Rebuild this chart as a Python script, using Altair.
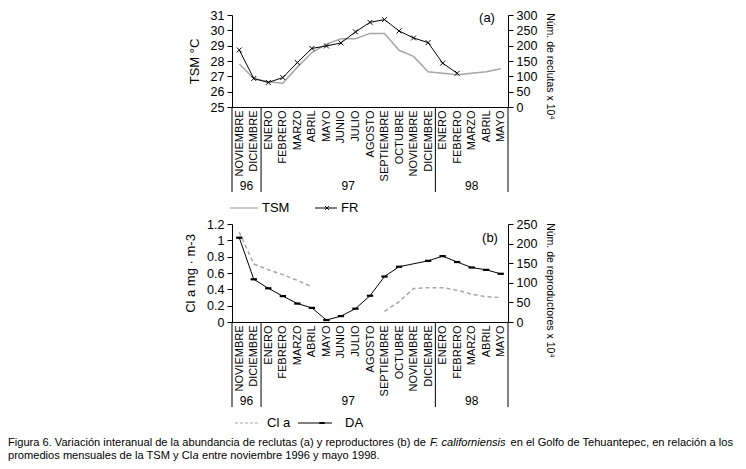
import altair as alt
import pandas as pd

# ---------------- data ----------------
months = ["NOVIEMBRE", "DICIEMBRE", "ENERO", "FEBRERO", "MARZO", "ABRIL", "MAYO",
          "JUNIO", "JULIO", "AGOSTO", "SEPTIEMBRE", "OCTUBRE", "NOVIEMBRE",
          "DICIEMBRE", "ENERO", "FEBRERO", "MARZO", "ABRIL", "MAYO"]
tsm = [27.8, 26.85, 26.65, 26.55, 27.6, 28.55, 29.1, 29.45, 29.45, 29.8,
       29.8, 28.7, 28.3, 27.3, 27.2, 27.1, 27.2, 27.3, 27.5]
fr = [186, 93, 80, 96, 145, 191, 199, 209, 245, 276, 285, 248, 225, 210,
      143, 110, None, None, None]
cla = [1.1, 0.71, 0.64, 0.58, 0.51, 0.43, None, None, None, None, 0.13,
       0.25, 0.41, 0.42, 0.42, 0.39, 0.34, 0.31, 0.30]
da = [215, 109, 86, 66, 47, 36, 5, 15, 34, 67, 116, 141, None, 156, 168,
      153, 139, 133, 123]
years = ["96", "97", "98"]
year_edges = [0, 2, 14, 19]
year_centers = [1, 8, 16.5]
caption1 = ["Figura 6. Variación interanual de la abundancia de reclutas (a) y reproductores (b) de",
            "F. californiensis",
            "en el Golfo de Tehuantepec, en relación a los"]
caption2 = ["promedios mensuales de la TSM y Cl", "a", "entre noviembre 1996 y mayo 1998."]

FONT = "Liberation Sans"

# ---------------- layout (pixels inside the svg) ----------------
W, H = 730, 453
X0, X1 = 224, 500
A_TOP, A_BOT = 7, 99
B_TOP, B_BOT = 216, 314
RULE = 85
CAP_FS = 11.1
CAP_X = [0, 422, 502.5, 0, 184.5, 194]
CAP_Y = [438, 438, 438, 451, 451, 451]

pos = [i + 0.5 for i in range(len(months))]
dfa = pd.DataFrame({"pos": pos, "tsm": tsm, "fr": fr})
dfb = pd.DataFrame({"pos": pos, "cla": cla, "da": da})
dfb["seg"] = dfb["cla"].isna().cumsum()
fr_df = dfa.dropna(subset=["fr"])
cla_df = dfb.dropna(subset=["cla"])
da_df = dfb.dropna(subset=["da"])

label_expr = "[" + ",".join("'%s'" % m for m in months) + "][floor(datum.value)]"


def xs():
    return alt.Scale(domain=[0, 19], range=[X0, X1], nice=False, zero=False)


def x_axis(offset):
    return alt.Axis(values=pos, labelExpr=label_expr, labelAngle=270, ticks=False,
                    domainColor="black", domainWidth=1, labelFontSize=11, labelColor="black",
                    labelPadding=3, title=None, grid=False, orient="bottom",
                    offset=offset, labelFont=FONT)


def y_axis(orient, values, title, fmt=None, title_fs=13, title_y=None):
    kw = dict(orient=orient, values=values, title=title, grid=False,
              offset=(-X0 if orient == "left" else -(W - X1)),
              tickSize=5, tickColor="black", domainColor="black", labelColor="black",
              labelFontSize=12.5, labelFont=FONT, titleFont=FONT, titleFontSize=title_fs,
              titleFontWeight="normal", titleColor="black",
              titlePadding=(9 if orient == "left" else 8), labelPadding=3)
    if fmt:
        kw["format"] = fmt
    if title_y is not None:
        kw["titleY"] = title_y
    return alt.Axis(**kw)


ya_l = lambda: alt.Scale(domain=[25, 31], range=[A_BOT, A_TOP], nice=False, zero=False)
ya_r = lambda: alt.Scale(domain=[0, 300], range=[A_BOT, A_TOP], nice=False)
yb_l = lambda: alt.Scale(domain=[0, 1.2], range=[B_BOT, B_TOP], nice=False)
yb_r = lambda: alt.Scale(domain=[0, 250], range=[B_BOT, B_TOP], nice=False)

layers = []

# ---- panel (a) ----
layers.append(alt.Chart(dfa).mark_line(color="#a6a6a6", strokeWidth=1.5).encode(
    x=alt.X("pos:Q", scale=xs(), axis=x_axis(A_BOT - H)),
    y=alt.Y("tsm:Q", scale=ya_l(), axis=y_axis("left", [25, 26, 27, 28, 29, 30, 31], "TSM  °C"))))
layers.append(alt.Chart(fr_df).mark_line(color="black", strokeWidth=1).encode(
    x=alt.X("pos:Q", scale=xs(), axis=None),
    y=alt.Y("fr:Q", scale=ya_r(), axis=y_axis("right", [0, 50, 100, 150, 200, 250, 300],
                                              "Núm. de reclutas x 10⁴", title_fs=10.5,
                                              title_y=58))))
layers.append(alt.Chart(fr_df).mark_point(shape="M-1,-1L1,1M-1,1L1,-1", size=24, color="black",
                                          strokeWidth=1, opacity=1).encode(
    x=alt.X("pos:Q", scale=xs(), axis=None),
    y=alt.Y("fr:Q", scale=ya_r(), axis=None)))

# ---- panel (b) ----
layers.append(alt.Chart(cla_df).mark_line(color="#a6a6a6", strokeWidth=1.5, strokeDash=[4, 3]).encode(
    x=alt.X("pos:Q", scale=xs(), axis=x_axis(B_BOT - H)),
    y=alt.Y("cla:Q", scale=yb_l(), axis=y_axis("left", [0, 0.2, 0.4, 0.6, 0.8, 1, 1.2],
                                               "Cl a mg · m-3", fmt=".1~f")),
    detail="seg:N"))
layers.append(alt.Chart(da_df).mark_line(color="black", strokeWidth=1).encode(
    x=alt.X("pos:Q", scale=xs(), axis=None),
    y=alt.Y("da:Q", scale=yb_r(), axis=y_axis("right", [0, 50, 100, 150, 200, 250],
                                              "Núm. de reproductores x 10⁴", title_fs=10.5,
                                              title_y=282))))
layers.append(alt.Chart(da_df).mark_point(shape="M-1,-0.35L1,-0.35L1,0.35L-1,0.35Z", size=40,
                                          color="black", filled=True, opacity=1).encode(
    x=alt.X("pos:Q", scale=xs(), axis=None),
    y=alt.Y("da:Q", scale=yb_r(), axis=None)))

# ---- year separators and labels ----
edges_df = pd.DataFrame({"pos": year_edges})
years_df = pd.DataFrame({"pos": year_centers, "year": years})
for bot in (A_BOT, B_BOT):
    layers.append(alt.Chart(edges_df).mark_rule(color="black", strokeWidth=1).encode(
        x=alt.X("pos:Q", scale=xs(), axis=None),
        y=alt.value(bot), y2=alt.value(bot + RULE)))
    layers.append(alt.Chart(years_df).mark_text(font=FONT, fontSize=12, color="black").encode(
        x=alt.X("pos:Q", scale=xs(), axis=None),
        y=alt.value(bot + 79), text="year:N"))

# ---- panel tags ----
layers.append(alt.Chart(pd.DataFrame({"t": ["(a)"]})).mark_text(
    font=FONT, fontSize=13, color="black", align="center").encode(
    x=alt.value(479), y=alt.value(10), text="t:N"))
layers.append(alt.Chart(pd.DataFrame({"t": ["(b)"]})).mark_text(
    font=FONT, fontSize=13, color="black", align="center").encode(
    x=alt.value(482), y=alt.value(230), text="t:N"))

# ---- legends ----
LA, LB = A_BOT + 101, B_BOT + 101
layers.append(alt.Chart(pd.DataFrame({"k": [0]})).mark_rule(color="#a6a6a6", strokeWidth=1.2).encode(
    x=alt.value(222), x2=alt.value(250), y=alt.value(LA)))
layers.append(alt.Chart(pd.DataFrame({"k": [0]})).mark_rule(color="black", strokeWidth=1).encode(
    x=alt.value(307), x2=alt.value(329), y=alt.value(LA)))
layers.append(alt.Chart(pd.DataFrame({"k": [0]})).mark_point(
    shape="M-1,-1L1,1M-1,1L1,-1", size=14, color="black", strokeWidth=1, opacity=1).encode(
    x=alt.value(319), y=alt.value(LA)))
layers.append(alt.Chart(pd.DataFrame({"t": ["TSM", "FR"], "x": [254, 333]})).mark_text(
    font=FONT, fontSize=13, color="black", align="left", baseline="middle").encode(
    x=alt.X("x:Q", scale=None), y=alt.value(LA), text="t:N"))

layers.append(alt.Chart(pd.DataFrame({"k": [0]})).mark_rule(
    color="#a6a6a6", strokeWidth=1.2, strokeDash=[3, 2]).encode(
    x=alt.value(227), x2=alt.value(250), y=alt.value(LB)))
layers.append(alt.Chart(pd.DataFrame({"k": [0]})).mark_rule(color="black", strokeWidth=1).encode(
    x=alt.value(290), x2=alt.value(324), y=alt.value(LB)))
layers.append(alt.Chart(pd.DataFrame({"k": [0]})).mark_point(
    shape="M-1,-0.35L1,-0.35L1,0.35L-1,0.35Z", size=30, color="black", filled=True, opacity=1).encode(
    x=alt.value(314), y=alt.value(LB)))
layers.append(alt.Chart(pd.DataFrame({"t": ["Cl a", "DA"], "x": [259, 337]})).mark_text(
    font=FONT, fontSize=13, color="black", align="left", baseline="middle").encode(
    x=alt.X("x:Q", scale=None), y=alt.value(LB), text="t:N"))

# ---- caption ----
cap = pd.DataFrame({
    "t": caption1 + caption2,
    "x": CAP_X,
    "y": CAP_Y,
    "style": ["normal", "italic", "normal", "normal", "italic", "normal"],
})
for st in ("normal", "italic"):
    sub = cap[cap["style"] == st]
    layers.append(alt.Chart(sub).mark_text(
        font=FONT, fontSize=CAP_FS, color="black", align="left", baseline="alphabetic",
        fontStyle=st).encode(
        x=alt.X("x:Q", scale=None), y=alt.Y("y:Q", scale=None), text="t:N"))

chart = alt.layer(*layers).resolve_scale(x="independent", y="independent").resolve_axis(
    x="independent", y="independent").properties(
    width=W, height=H, autosize=alt.AutoSizeParams(type="none"), padding=0,
    background="white").configure_view(strokeWidth=0)

chart.save("out.html", embed_options={"renderer": "svg", "actions": False})
